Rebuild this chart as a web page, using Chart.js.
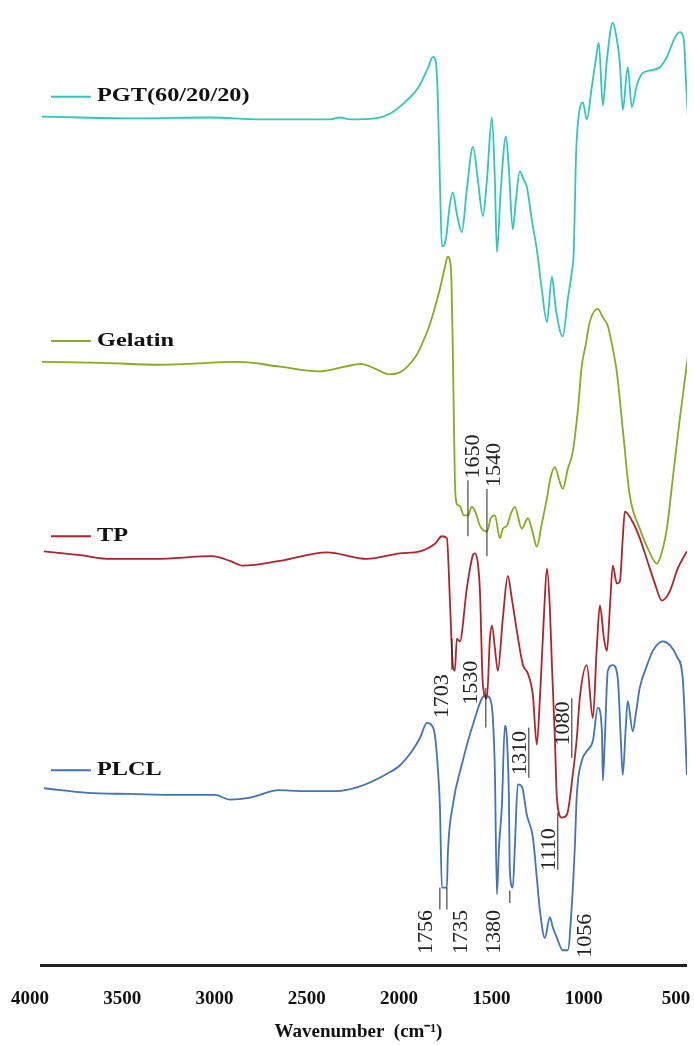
<!DOCTYPE html>
<html>
<head>
<meta charset="utf-8">
<script src="https://cdn.jsdelivr.net/npm/chart.js@4.4.0/dist/chart.umd.min.js"></script>
<style>
  body { margin: 0; background: #fff; }
  canvas { display: block; }
</style>
</head>
<body>
<canvas id="ftirChart" width="694" height="1045"></canvas>
<script>
// FTIR spectra, stacked (transmittance, arbitrary units with offsets)
const pgtWave = [3935, 3729, 3404, 3025, 2754, 2375, 2321, 2267, 2131, 2050, 1969, 1898, 1844, 1817, 1801, 1790, 1779, 1768, 1747, 1725, 1709, 1687, 1660, 1633, 1600, 1573, 1546, 1524, 1497, 1481, 1470, 1449, 1421, 1405, 1384, 1367, 1346, 1324, 1308, 1281, 1254, 1227, 1199, 1172, 1151, 1113, 1086, 1064, 1053, 1042, 1031, 1004, 983, 956, 934, 918, 896, 874, 842, 820, 804, 788, 761, 739, 712, 679, 631, 587, 549, 506, 479, 457, 446, 435];
const pgtT = [89.6, 89.5, 89.4, 89.5, 89.3, 89.3, 89.5, 89.3, 89.4, 89.9, 91.1, 92.6, 94.7, 95.9, 95.4, 91.4, 82.9, 75.9, 76.6, 80.3, 81.6, 79.3, 77.4, 81.9, 86.4, 82.9, 79.1, 82.9, 89.5, 82.9, 75.3, 81.9, 87.5, 84.0, 77.7, 80.8, 83.8, 82.9, 82.2, 78.7, 75.6, 71.4, 67.9, 72.7, 69.3, 66.4, 70.3, 73.2, 75.6, 85.1, 88.9, 91.1, 89.3, 92.7, 95.6, 97.4, 90.8, 95.6, 99.5, 97.7, 95.3, 90.3, 94.8, 90.6, 92.9, 94.2, 94.5, 94.8, 95.9, 97.9, 98.5, 97.7, 93.5, 89.6];

const gelWave = [3935, 3610, 3296, 2868, 2646, 2434, 2294, 2207, 2131, 2055, 1996, 1909, 1887, 1833, 1779, 1752, 1736, 1719, 1709, 1698, 1687, 1671, 1649, 1627, 1606, 1589, 1562, 1524, 1503, 1481, 1454, 1438, 1416, 1394, 1373, 1335, 1302, 1275, 1254, 1227, 1199, 1178, 1156, 1135, 1113, 1086, 1059, 1031, 1010, 988, 967, 923, 896, 869, 842, 820, 788, 750, 696, 652, 603, 571, 549, 517, 479, 435];
const gelT = [63.7, 63.6, 63.4, 63.7, 63.2, 62.7, 63.2, 63.5, 63.0, 62.4, 62.6, 64.3, 65.1, 67.7, 71.4, 73.7, 74.8, 73.5, 65.1, 51.4, 48.7, 48.5, 47.5, 47.5, 48.4, 48.0, 46.4, 45.8, 47.2, 47.5, 45.1, 46.1, 46.4, 47.7, 48.4, 46.1, 47.2, 45.6, 44.2, 46.6, 49.3, 51.6, 52.6, 51.4, 50.3, 52.4, 54.2, 58.7, 63.3, 65.6, 67.9, 69.3, 68.4, 67.5, 65.1, 62.6, 56.6, 49.6, 46.1, 44.0, 42.4, 44.0, 46.1, 51.4, 57.7, 64.3];

const tpWave = [3924, 3729, 3561, 3323, 3014, 2917, 2846, 2646, 2391, 2174, 1996, 1887, 1806, 1768, 1741, 1725, 1709, 1698, 1687, 1671, 1633, 1600, 1589, 1573, 1562, 1546, 1524, 1508, 1497, 1481, 1465, 1438, 1411, 1389, 1362, 1329, 1302, 1275, 1254, 1237, 1216, 1199, 1183, 1172, 1156, 1145, 1118, 1091, 1059, 1037, 1021, 983, 950, 929, 912, 890, 874, 858, 842, 820, 804, 788, 777, 734, 696, 658, 614, 576, 533, 490, 441];
const tpT = [43.7, 43.3, 42.9, 42.9, 43.2, 42.7, 42.2, 42.7, 43.6, 42.9, 43.5, 43.7, 44.5, 45.3, 45.1, 38.7, 31.7, 31.1, 34.5, 34.2, 39.8, 43.3, 43.5, 42.4, 39.5, 29.6, 28.2, 34.5, 35.9, 33.5, 31.1, 36.6, 41.1, 38.7, 35.3, 31.7, 30.8, 28.5, 23.3, 28.2, 36.6, 41.9, 37.7, 31.7, 24.0, 17.7, 15.6, 15.9, 20.1, 24.0, 28.2, 31.7, 26.1, 33.5, 38.0, 34.5, 33.2, 37.7, 42.2, 40.3, 40.5, 45.1, 47.9, 46.8, 45.1, 42.9, 40.3, 38.5, 39.5, 41.9, 43.7];

const plclWave = [3924, 3686, 3458, 3204, 2998, 2917, 2808, 2651, 2537, 2342, 2212, 2077, 1996, 1931, 1887, 1849, 1822, 1806, 1790, 1779, 1768, 1741, 1736, 1709, 1660, 1600, 1535, 1508, 1492, 1481, 1470, 1459, 1443, 1427, 1416, 1405, 1400, 1384, 1373, 1357, 1335, 1308, 1275, 1254, 1237, 1210, 1183, 1167, 1145, 1113, 1086, 1064, 1048, 1037, 1010, 983, 950, 923, 901, 896, 885, 869, 842, 815, 799, 788, 772, 761, 734, 717, 696, 658, 625, 571, 533, 495, 463, 452, 441];
const plclT = [18.7, 18.2, 18.1, 18.0, 18.0, 17.5, 17.7, 18.5, 18.4, 18.4, 18.9, 20.1, 21.1, 22.6, 24.0, 25.6, 25.3, 24.3, 20.8, 16.9, 8.2, 8.2, 11.7, 16.9, 21.2, 25.4, 28.5, 28.2, 26.1, 20.5, 7.5, 12.4, 16.9, 25.3, 24.0, 17.7, 10.0, 8.2, 12.4, 19.1, 18.9, 15.9, 13.5, 9.3, 5.8, 2.9, 5.1, 4.0, 2.9, 1.6, 1.6, 6.4, 12.4, 18.0, 21.6, 22.6, 23.7, 27.2, 24.7, 19.5, 24.0, 31.1, 31.7, 30.3, 24.0, 20.1, 25.1, 27.9, 24.7, 26.6, 29.3, 31.6, 33.2, 34.2, 33.8, 32.6, 30.3, 26.1, 20.1];

const seriesNames = ['PGT(60/20/20)', 'Gelatin', 'TP', 'PLCL'];
const seriesColors = ['#2fc6bd', '#86ab1c', '#b0232b', '#3f74b8'];
const legendY = [91.7, 65.9, 45.3, 20.6];
const legendLine = [3886, 3670];
const legendTextAt = 3637;

const xTicks = [4000, 3500, 3000, 2500, 2000, 1500, 1000, 500];
const axisStart = 3946;

// peak labels: text centre wavenumber, text bottom, leader line wavenumber and ends
const peakLabels = ['1650', '1540', '1703', '1530', '1310', '1110', '1080', '1756', '1735', '1380', '1056'];
const peakTextX = [1600, 1486, 1768, 1611, 1346, 1189, 1113, 1855, 1665, 1486, 994];
const peakTextY = [51.4, 50.5, 26.1, 27.5, 20.1, 10.0, 23.2, 1.2, 1.2, 1.2, 0.8];
const peakLineX = [1627, 1524, 1714, 1530, 1297, 1140, 1064, 1779, 1741, 1400, null];
const peakLineY1 = [51.2, 50.3, 34.5, 29.3, 25.1, 16.1, 28.2, 8.2, 8.2, 7.9, null];
const peakLineY2 = [45.3, 43.2, 31.2, 25.1, 19.8, 10.1, 21.9, 5.9, 5.9, 6.6, null];

const waves = [pgtWave, gelWave, tpWave, plclWave];
const values = [pgtT, gelT, tpT, plclT];

const overlay = {
    id: 'overlay',
    afterDatasetsDraw(chart) {
        const ctx = chart.ctx;
        const x = chart.scales.x;
        const y = chart.scales.y;
        ctx.save();
        // bottom axis line
        ctx.strokeStyle = '#222';
        ctx.lineWidth = 3;
        ctx.beginPath();
        ctx.moveTo(x.getPixelForValue(axisStart), y.getPixelForValue(y.min));
        ctx.lineTo(x.getPixelForValue(x.min), y.getPixelForValue(y.min));
        ctx.stroke();
        // legends next to each trace
        seriesNames.forEach((name, i) => {
            const yy = y.getPixelForValue(legendY[i]);
            ctx.strokeStyle = seriesColors[i];
            ctx.lineWidth = 2;
            ctx.beginPath();
            ctx.moveTo(x.getPixelForValue(legendLine[0]), yy);
            ctx.lineTo(x.getPixelForValue(legendLine[1]), yy);
            ctx.stroke();
            ctx.save();
            ctx.translate(x.getPixelForValue(legendTextAt), yy);
            ctx.scale(1.35, 1);
            ctx.fillStyle = '#111';
            ctx.font = 'bold 18px "Liberation Serif", serif';
            ctx.textBaseline = 'middle';
            ctx.textAlign = 'left';
            ctx.fillText(name, 0, 0);
            ctx.restore();
        });
        // peak labels
        ctx.strokeStyle = '#222';
        ctx.lineWidth = 1;
        peakLabels.forEach((lab, i) => {
            if (peakLineX[i] !== null) {
                const lx = x.getPixelForValue(peakLineX[i]);
                ctx.beginPath();
                ctx.moveTo(lx, y.getPixelForValue(peakLineY1[i]));
                ctx.lineTo(lx, y.getPixelForValue(peakLineY2[i]));
                ctx.stroke();
            }
            ctx.save();
            ctx.translate(x.getPixelForValue(peakTextX[i]), y.getPixelForValue(peakTextY[i]));
            ctx.rotate(-Math.PI / 2);
            ctx.font = '22px "Liberation Serif", serif';
            ctx.fillStyle = '#222';
            ctx.textAlign = 'left';
            ctx.textBaseline = 'middle';
            ctx.fillText(lab, 0, 0);
            ctx.restore();
        });
        ctx.restore();
    }
};

new Chart(document.getElementById('ftirChart'), {
    type: 'line',
    data: {
        datasets: seriesNames.map((name, i) => ({
            label: name,
            data: waves[i].map((w, j) => ({ x: w, y: values[i][j] })),
            borderColor: seriesColors[i],
            borderWidth: 1.8,
            pointRadius: 0,
            cubicInterpolationMode: 'monotone',
            fill: false
        }))
    },
    options: {
        responsive: false,
        animation: false,
        layout: { padding: { top: 18, left: 30, right: 7, bottom: 2 } },
        scales: {
            x: {
                type: 'linear',
                reverse: true,
                min: 440,
                max: 4000,
                afterBuildTicks: axis => { axis.ticks = xTicks.map(v => ({ value: v })); },
                afterFit: axis => { axis.paddingLeft = 0; axis.paddingRight = 0; },
                grid: { display: false, drawTicks: false },
                border: { display: false },
                ticks: {
                    padding: 22,
                    color: '#111',
                    callback: v => String(v),
                    font: { family: '"Liberation Serif", serif', size: 19, weight: 'bold' }
                },
                title: {
                    display: true,
                    text: 'Wavenumber  (cm\u207B\u00B9)',
                    color: '#111',
                    padding: { top: -12, bottom: 0 },
                    font: { family: '"Liberation Serif", serif', size: 19, weight: 'bold' }
                }
            },
            y: {
                display: false,
                min: 0,
                max: 100
            }
        },
        plugins: {
            legend: { display: false },
            tooltip: { enabled: false }
        }
    },
    plugins: [overlay]
});
</script>
</body>
</html>
